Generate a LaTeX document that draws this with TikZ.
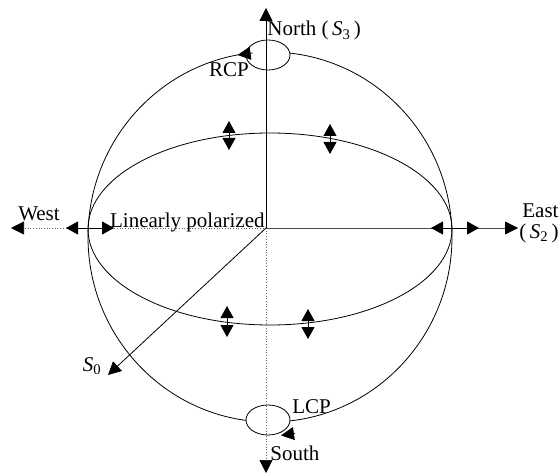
\documentclass[tikz,border=0pt]{standalone}
\usepackage{fontspec}
\setmainfont{Liberation Serif}
\usetikzlibrary{positioning,arrows.meta,shapes.geometric}

\begin{document}
\begin{tikzpicture}[x=1pt,y=-1pt,line width=0.8pt,
  tip/.style={-{Triangle[length=13pt,width=13pt,color=black]}},
  dbl/.style={{Triangle[length=12pt,width=13pt]}-{Triangle[length=12pt,width=13pt]}},
  lbl/.style={font=\fontsize{21}{23}\selectfont,inner sep=0pt},
  pole/.style={ellipse,draw,fill=white,minimum width=44pt,minimum height=30pt,inner sep=0pt},
  dots/.style={dotted,line width=0.7pt,black!60}]
\useasboundingbox (0,0) rectangle (560,476);
\coordinate (o) at (266,228);
\coordinate (n) at (266,8);
\coordinate (s) at (266,473);
\coordinate (e) at (518,228);
\coordinate (w) at (11,228);
\coordinate (s0) at (108,375);
% sphere and equator
\draw (270,237) ellipse [x radius=182pt, y radius=185pt];
\draw (270,229) ellipse [x radius=182pt, y radius=96pt];
% poles
\node (rcp) [pole] at (268,55) {};
\node (lcp) [pole] at (268,420) {};
\draw[tip] ([shift={(7,-2)}]rcp.west) -- ([shift={(-8,0)}]rcp.west);
\draw[tip] ([shift={(27,-2)}]lcp.south) -- ([shift={(13,0)}]lcp.south);
% axes
\draw[tip] (o) -- (n);
\draw[tip,dots] (o) -- (s);
\draw[tip,black!70] (o) -- (e);
\draw[tip,dots] (o) -- (w);
\draw[tip] (o) -- (s0);
% polarization marks
\coordinate (wl) at (66,228);  \coordinate (wr) at (114,228);
\coordinate (el) at (431,228); \coordinate (er) at (479,228);
\draw[dbl] (wl) -- (wr);
\draw[dbl] (el) -- (er);
\coordinate (a1) at (229,121); \coordinate (a2) at (229,150);
\coordinate (b1) at (330,124); \coordinate (b2) at (330,154);
\coordinate (c1) at (227,306); \coordinate (c2) at (227,337);
\coordinate (d1) at (308,309); \coordinate (d2) at (308,339);
\draw[dbl] (a1) -- (a2);
\draw[dbl] (b1) -- (b2);
\draw[dbl] (c1) -- (c2);
\draw[dbl] (d1) -- (d2);
% labels
\node (north) [lbl,anchor=base west] at (267,36) {North (\,\textit{S}\textsubscript{3}\,)};
\node (rcpl) [lbl] at (229,70) {RCP};
\node (lin) [lbl,anchor=base east] at (265,227) {Linearly polarized};
\node (west) [lbl,anchor=base] at (39,220) {West};
\node (east) [lbl,anchor=base west] at (522,218) {East};
\node (s2) [lbl,anchor=base west] at (519,238) {(\,\textit{S}\textsubscript{2}\,)};
\node (s0l) [lbl] at (92,366) {\textit{S}\textsubscript{0}};
\node (lcpl) [lbl,anchor=base west] at (292,413) {LCP};
\node (south) [lbl,anchor=base west] at (270,460) {South};
\end{tikzpicture}
\end{document}
